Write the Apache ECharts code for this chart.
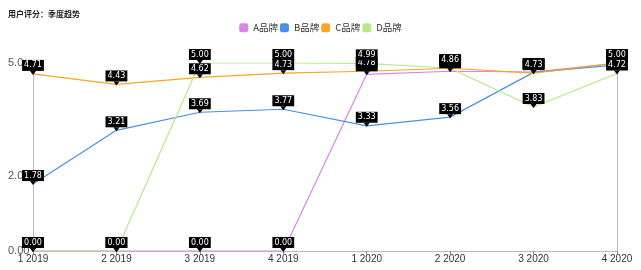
<!DOCTYPE html>
<html><head><meta charset="utf-8">
<script src="https://cdn.jsdelivr.net/npm/echarts@6/dist/echarts.min.js"></script>
<style>html,body{margin:0;padding:0;background:#fff}#c{width:641px;height:270px}</style>
</head><body><div id="c"></div>
<script>
const categories = ['1 2019','2 2019','3 2019','4 2019','1 2020','2 2020','3 2020','4 2020'];
const seriesNames = ['A品牌','B品牌','C品牌','D品牌'];
const aValues = [0, 0, 0, 0, 4.70, 4.78, 4.76, 5.00];
const bValues = [1.78, 3.21, 3.69, 3.77, 3.33, 3.56, 4.75, 4.95];
const cValues = [4.71, 4.43, 4.62, 4.73, 4.78, 4.86, 4.73, 5.00];
const dValues = [0, 0, 5.00, 5.00, 4.99, 4.86, 3.83, 4.72];
const yTickLabels = {0: '0.00', 2: '2.0', 5: '5.0'};
const colors = ['#D985E9', '#4A90E2', '#F5A623', '#B8E986'];
const font = '"Noto Sans CJK SC", "Noto Sans", sans-serif';
const axisFont = '"Liberation Sans", Arial, sans-serif';

const chart = echarts.init(document.getElementById('c'), null, {renderer: 'canvas'});
const mk = (name, data, i) => ({
  name, type: 'line', data,
  color: colors[i],
  lineStyle: {width: 1.2, color: colors[i]},
  symbol: 'triangle', symbolRotate: 180, symbolSize: [6, 4], symbolOffset: [0, -1],
  itemStyle: {color: '#000'},
  label: {
    show: true, position: 'top', distance: 0,
    formatter: p => p.value.toFixed(2),
    backgroundColor: '#000', color: '#fff', fontSize: 8, fontFamily: '"DejaVu Sans", sans-serif',
    padding: [1, 2, 1, 2], lineHeight: 9
  },
  emphasis: {disabled: true}
});
chart.setOption({
  animation: false,
  title: {text: '用户评分：季度趋势', left: 3, top: 5, textStyle: {fontSize: 8, fontWeight: 'bold', color: '#222', fontFamily: font}},
  legend: {
    data: seriesNames.map((n, i) => ({name: n, itemStyle: {color: colors[i]}})),
    top: 18, left: 'center', itemWidth: 9, itemHeight: 9, itemGap: 2,
    icon: 'roundRect', textStyle: {fontSize: 9.5, color: '#333', fontFamily: font}
  },
  grid: {left: 33, right: 24, top: 63, bottom: 19, containLabel: false},
  xAxis: {
    type: 'category', data: categories, boundaryGap: false,
    axisLine: {lineStyle: {color: '#bbb'}},
    axisTick: {show: true, alignWithLabel: true, length: 3, lineStyle: {color: '#888'}},
    axisLabel: {fontSize: 10, color: '#333', margin: 3, fontFamily: axisFont}
  },
  yAxis: [{
    type: 'value', min: 0, max: 5, interval: 1,
    splitLine: {show: false},
    axisLine: {show: true, lineStyle: {color: '#bbb'}},
    axisTick: {show: false},
    axisLabel: {fontSize: 11, color: '#555', margin: 25, align: 'left', fontFamily: axisFont,
      formatter: v => (yTickLabels[v] !== undefined ? yTickLabels[v] : '')}
  }, {
    type: 'value', min: 0, max: 5, position: 'right',
    splitLine: {show: false},
    axisLine: {show: true, lineStyle: {color: '#bbb'}},
    axisTick: {show: false}, axisLabel: {show: false}
  }],
  series: [mk(seriesNames[0], aValues, 0), mk(seriesNames[1], bValues, 1), mk(seriesNames[2], cValues, 2), mk(seriesNames[3], dValues, 3)]
});
</script></body></html>
